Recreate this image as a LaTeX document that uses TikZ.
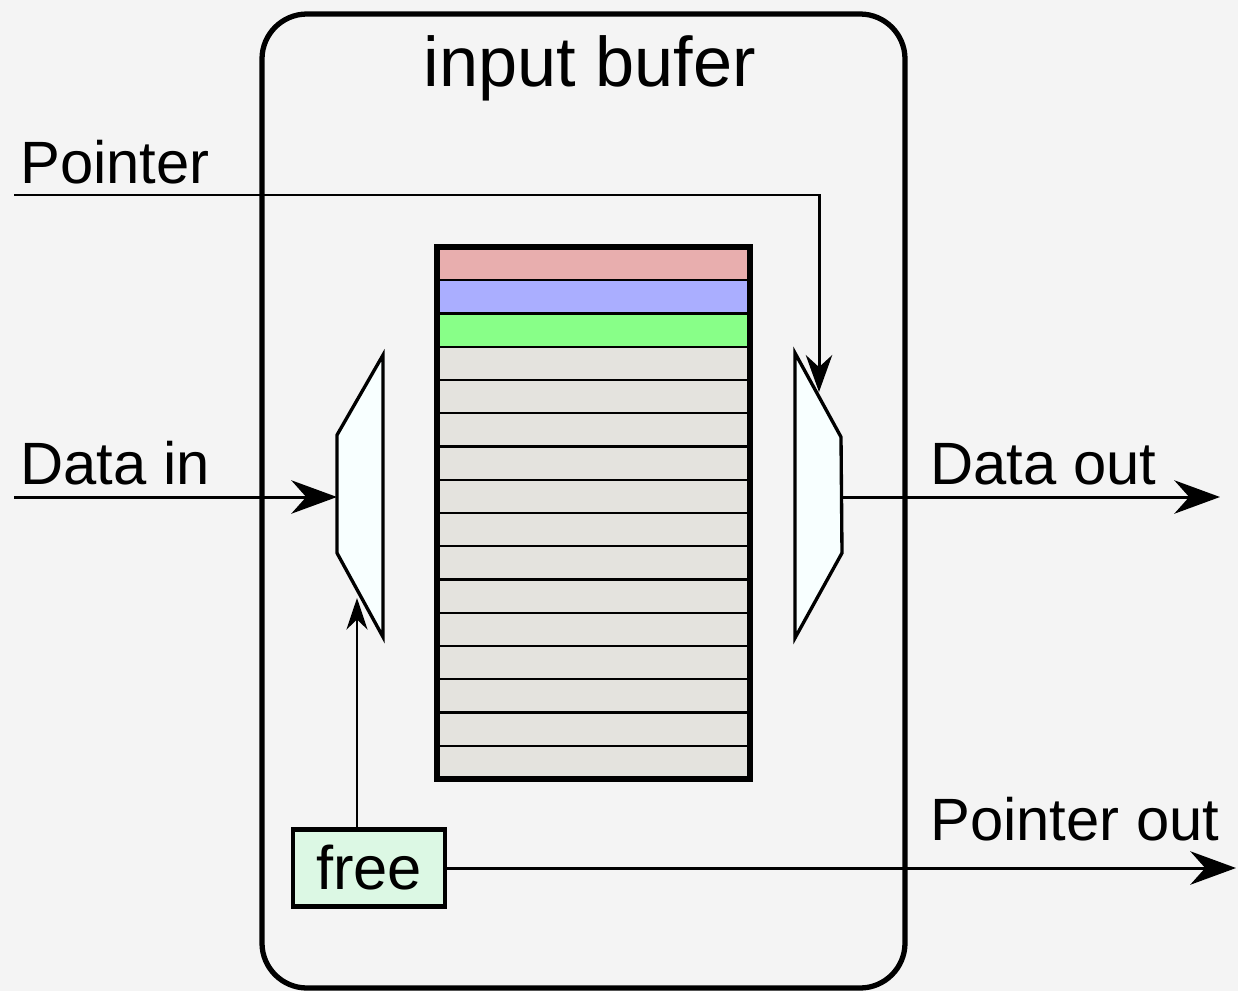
\documentclass[tikz,border=0pt]{standalone}
\usepackage{fontspec}
\setmainfont{Liberation Sans}
\usetikzlibrary{arrows.meta}

\definecolor{bg}{HTML}{F4F4F4}
\definecolor{rowred}{HTML}{E8AEAE}
\definecolor{rowblue}{HTML}{AAAEFF}
\definecolor{rowgreen}{HTML}{88FF88}
\definecolor{rowgray}{HTML}{E4E3DE}
\definecolor{muxfill}{HTML}{F8FFFF}
\definecolor{freefill}{HTML}{DCF8E4}

\tikzset{
  lbl/.style={inner sep=0pt, anchor=base west, font=\fontsize{34}{40}\selectfont},
  wire/.style={line width=1.7pt},
  bigtip/.style={-{Stealth[length=26pt, width=19pt]}},
  smalltip/.style={-{Stealth[length=18pt, width=12pt]}},
  mux/.style={line width=1.9pt, fill=muxfill, line join=miter},
  memrow/.style={line width=1.3pt}
}

\begin{document}
\begin{tikzpicture}[x=0.02cm, y=-0.02cm]
            %Background
            \fill[bg] (0,0) rectangle (1238,991);
            \useasboundingbox (0,0) rectangle (1238,991);

            %Buffer box
            \draw[line width=3pt, rounded corners=0.9cm] (262,14) rectangle (905,988);
            \node[inner sep=0pt, anchor=base, font=\fontsize{40}{46}\selectfont] at (590,86) (title) {input bufer};

            %Memory rows
            \foreach \i/\c in {0/rowred,1/rowblue,2/rowgreen,3/rowgray,4/rowgray,5/rowgray,6/rowgray,7/rowgray,8/rowgray,9/rowgray,10/rowgray,11/rowgray,12/rowgray,13/rowgray,14/rowgray,15/rowgray}
              \draw[memrow, fill=\c] (437,247+33.25*\i) rectangle (750,247+33.25*\i+33.25);
            \node[draw, line width=3.4pt, inner sep=0pt, minimum width=6.26cm, minimum height=10.64cm] at (593.5,513) (mem) {};

            %Muxes
            \draw[mux] (383,355) coordinate (lmuxtop) -- (337,435) -- (337,553) -- (383,637) coordinate (lmuxbot) -- cycle;
            \draw[mux] (795,353) coordinate (rmuxtop) -- (841,437) -- (842,553) -- (795,638) coordinate (rmuxbot) -- cycle;
            \coordinate (lmuxin) at (337,497);
            \coordinate (lmuxsel) at (357,598);
            \coordinate (rmuxout) at (842,497);
            \coordinate (rmuxsel) at (819,392);

            %Nodes
            \node[draw, line width=2.3pt, fill=freefill, inner sep=0pt, minimum width=3.04cm, minimum height=1.54cm,
                  font=\fontsize{35}{40}\selectfont] at (369,868) (free) {free};
            \node[lbl] at (20,183) (ptrin) {Pointer};
            \node[lbl] at (20,484) (datain) {Data in};
            \node[lbl] at (930,484) (dataout) {Data out};
            \node[lbl] at (930,840) (ptrout) {Pointer out};
            \coordinate (ptrstart) at (14,195);
            \coordinate (datastart) at (14,497);
            \coordinate (dataend) at (1220,497);
            \coordinate (ptrend) at (1236,868);

            %Lines
            \draw[wire, -{Stealth[length=21pt, width=15pt]}] (ptrstart) -| (rmuxsel);
            \draw[wire, bigtip] (datastart) -- (lmuxin);
            \draw[wire, bigtip] (rmuxout) -- (dataend);
            \draw[wire, smalltip] (free.north -| lmuxsel) -- (lmuxsel);
            \draw[wire, bigtip] (free.east) -- (ptrend);
        \end{tikzpicture}
\end{document}
